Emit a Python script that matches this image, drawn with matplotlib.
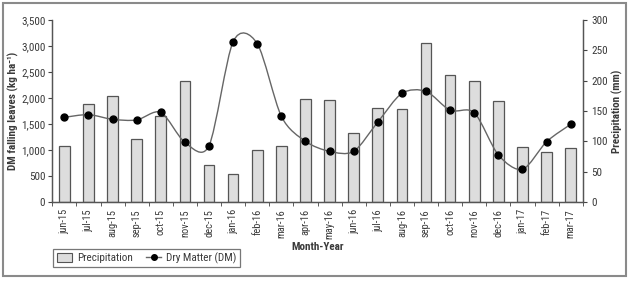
import numpy as np
import matplotlib
matplotlib.use('Agg')
import matplotlib.pyplot as plt
from matplotlib import font_manager
from matplotlib.path import Path
from matplotlib.patches import PathPatch, Rectangle
from matplotlib.lines import Line2D
from matplotlib.patches import Patch

MONTHS = ['jun-15', 'jul-15', 'aug-15', 'sep-15', 'oct-15', 'nov-15', 'dec-15',
          'jan-16', 'feb-16', 'mar-16', 'apr-16', 'may-16', 'jun-16', 'jul-16',
          'aug-16', 'sep-16', 'oct-16', 'nov-16', 'dec-16', 'jan-17', 'feb-17',
          'mar-17']
# precipitation (mm), right axis
PRECIP = [93, 161, 175, 104, 141, 200, 61, 47, 86, 93, 170, 168, 114, 155,
          153, 262, 210, 200, 166, 90, 83, 89]
# dry matter of falling leaves (kg ha-1), left axis
DM = [1628, 1680, 1590, 1577, 1724, 1147, 1083, 3083, 3045, 1647, 1167, 974,
      974, 1538, 2090, 2128, 1763, 1718, 904, 628, 1160, 1494]

LINE_C = '#666666'
TXT_C = '#3a3a3a'
BAR_FACE = '#dddddd'
BAR_EDGE = '#555555'

# the original uses an arial-narrow like face; pick a condensed one if there is one
narrow = None
entries = font_manager.fontManager.ttflist
for want in ['Liberation Sans Narrow', 'Arial Narrow', 'Roboto Condensed',
             'Open Sans Condensed', 'Noto Sans', 'DejaVu Sans']:
    for f in entries:
        if f.name == want and f.style == 'normal' and (
                'Narrow' in want or 'Condensed' in want or
                str(f.stretch) in ('condensed', 'semi-condensed')):
            narrow = f
            break
    if narrow is not None:
        break

if narrow is not None:
    plt.rcParams['font.family'] = [narrow.name, 'Liberation Sans', 'DejaVu Sans']
    if narrow.name in ('Noto Sans', 'DejaVu Sans'):
        plt.rcParams['font.stretch'] = narrow.stretch
    FS = 8
else:
    plt.rcParams['font.family'] = ['Liberation Sans', 'DejaVu Sans']
    FS = 6.5


def smooth_path(x, y, k=7.0):
    # excel-like smoothed line: catmull-rom segments as cubic beziers
    x = np.asarray(x, float)
    y = np.asarray(y, float)
    n = len(x)
    verts = [(x[0], y[0])]
    codes = [Path.MOVETO]
    for i in range(n - 1):
        i0 = max(i - 1, 0)
        i3 = min(i + 2, n - 1)
        c1 = (x[i] + (x[i + 1] - x[i0]) / k, y[i] + (y[i + 1] - y[i0]) / k)
        c2 = (x[i + 1] - (x[i3] - x[i]) / k, y[i + 1] - (y[i3] - y[i]) / k)
        verts += [c1, c2, (x[i + 1], y[i + 1])]
        codes += [Path.CURVE4] * 3
    return Path(verts, codes)


fig = plt.figure(figsize=(6.3, 2.81), dpi=100)
fig.patches.append(Rectangle((0.005, 0.018), 0.988, 0.97, transform=fig.transFigure,
                             fill=False, edgecolor='#8a8a8a', linewidth=1.5))

ax = fig.add_axes([0.083, 0.281, 0.842, 0.648])
ax2 = ax.twinx()

xs = np.arange(len(MONTHS))

# bars on the right (precipitation) axis, drawn below the line
ax2.bar(xs, PRECIP, width=0.44, color=BAR_FACE, edgecolor=BAR_EDGE, linewidth=0.9,
        zorder=1)
ax2.set_ylim(0, 300)
ax2.set_yticks(np.arange(0, 301, 50))

ax.set_zorder(ax2.get_zorder() + 1)
ax.patch.set_visible(False)
ax.add_patch(PathPatch(smooth_path(xs, DM), fill=False, edgecolor=LINE_C,
                       linewidth=1.0, zorder=2))
ax.plot(xs, DM, linestyle='none', marker='o', markersize=5, color='black', zorder=3)
ax.set_ylim(0, 3500)
ax.set_yticks(np.arange(0, 3501, 500))
ax.set_yticklabels(['{:,}'.format(v) for v in range(0, 3501, 500)])
ax.set_xlim(-0.5, len(MONTHS) - 0.5)

ax.set_xticks(xs)
ax.set_xticklabels(MONTHS, rotation=90)
ax.set_xticks(np.arange(-0.5, len(MONTHS), 1.0), minor=True)
ax.tick_params(axis='x', which='major', length=0, pad=5, labelsize=FS - 0.5,
               colors=TXT_C)
ax.tick_params(axis='x', which='minor', length=3, color='#444444')
ax.tick_params(axis='y', labelsize=FS, length=3, pad=2, color='#444444', labelcolor=TXT_C)
ax2.tick_params(axis='y', labelsize=FS, length=3, pad=3, color='#444444', labelcolor=TXT_C)

for a in (ax, ax2):
    a.spines['top'].set_visible(False)
    for s in ('left', 'right', 'bottom'):
        a.spines[s].set_color('#555555')
        a.spines[s].set_linewidth(0.9)

ax.set_ylabel('DM falling leaves (kg ha\u207b\u00b9)', fontsize=FS, fontweight='bold',
              color=TXT_C)
ax.yaxis.set_label_coords(-0.062, 0.5)
ax2.set_ylabel('Precipitation (mm)', fontsize=FS, fontweight='bold', color=TXT_C)
ax2.yaxis.set_label_coords(1.055, 0.5)
ax.set_xlabel('Month-Year', fontsize=FS, fontweight='bold', color=TXT_C)
ax.xaxis.set_label_coords(0.5, -0.22)

handles = [Patch(facecolor=BAR_FACE, edgecolor=BAR_EDGE, linewidth=0.8),
           Line2D([], [], color=LINE_C, marker='o', markersize=4,
                  markerfacecolor='black', markeredgecolor='black', linewidth=1)]
leg = fig.legend(handles, ['Precipitation', 'Dry Matter (DM)'], loc='lower left',
                 bbox_to_anchor=(0.076, 0.03), ncol=2, fontsize=FS, frameon=True,
                 fancybox=False, edgecolor='#555555', handlelength=1.4,
                 handleheight=0.8, columnspacing=1.2, borderpad=0.3,
                 handletextpad=0.4)
leg.get_frame().set_linewidth(0.9)
for t in leg.get_texts():
    t.set_color(TXT_C)

fig.savefig('out.png', dpi=100)
